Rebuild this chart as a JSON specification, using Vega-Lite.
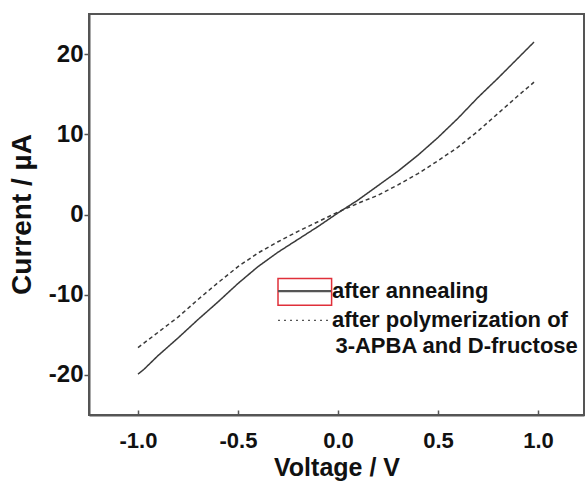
{
  "$schema": "https://vega.github.io/schema/vega-lite/v6.json",
  "width": 495,
  "height": 401,
  "autosize": {"type": "none"},
  "padding": {"left": 89, "top": 14, "right": 2, "bottom": 66},
  "background": "white",
  "config": {
    "view": {"stroke": "#555", "strokeWidth": 2},
    "font": "Liberation Sans"
  },
  "datasets": {
    "iv": [
      {"V": -1.0, "I": -19.9, "s": "after annealing"},
      {"V": -0.97, "I": -19.3, "s": "after annealing"},
      {"V": -0.9, "I": -17.6, "s": "after annealing"},
      {"V": -0.8, "I": -15.4, "s": "after annealing"},
      {"V": -0.7, "I": -13.1, "s": "after annealing"},
      {"V": -0.6, "I": -10.9, "s": "after annealing"},
      {"V": -0.5, "I": -8.6, "s": "after annealing"},
      {"V": -0.4, "I": -6.5, "s": "after annealing"},
      {"V": -0.3, "I": -4.7, "s": "after annealing"},
      {"V": -0.2, "I": -3.1, "s": "after annealing"},
      {"V": -0.1, "I": -1.5, "s": "after annealing"},
      {"V": 0.0, "I": 0.2, "s": "after annealing"},
      {"V": 0.1, "I": 1.8, "s": "after annealing"},
      {"V": 0.2, "I": 3.6, "s": "after annealing"},
      {"V": 0.3, "I": 5.4, "s": "after annealing"},
      {"V": 0.4, "I": 7.4, "s": "after annealing"},
      {"V": 0.5, "I": 9.6, "s": "after annealing"},
      {"V": 0.6, "I": 12.0, "s": "after annealing"},
      {"V": 0.7, "I": 14.6, "s": "after annealing"},
      {"V": 0.8, "I": 17.0, "s": "after annealing"},
      {"V": 0.9, "I": 19.5, "s": "after annealing"},
      {"V": 0.98, "I": 21.5, "s": "after annealing"},
      {"V": -1.0, "I": -16.6, "s": "after polymerization"},
      {"V": -0.9, "I": -14.7, "s": "after polymerization"},
      {"V": -0.8, "I": -12.8, "s": "after polymerization"},
      {"V": -0.7, "I": -10.6, "s": "after polymerization"},
      {"V": -0.6, "I": -8.5, "s": "after polymerization"},
      {"V": -0.5, "I": -6.5, "s": "after polymerization"},
      {"V": -0.4, "I": -4.8, "s": "after polymerization"},
      {"V": -0.3, "I": -3.4, "s": "after polymerization"},
      {"V": -0.2, "I": -2.1, "s": "after polymerization"},
      {"V": -0.1, "I": -0.9, "s": "after polymerization"},
      {"V": 0.0, "I": 0.3, "s": "after polymerization"},
      {"V": 0.1, "I": 1.4, "s": "after polymerization"},
      {"V": 0.2, "I": 2.4, "s": "after polymerization"},
      {"V": 0.3, "I": 3.7, "s": "after polymerization"},
      {"V": 0.4, "I": 5.1, "s": "after polymerization"},
      {"V": 0.5, "I": 6.7, "s": "after polymerization"},
      {"V": 0.6, "I": 8.4, "s": "after polymerization"},
      {"V": 0.7, "I": 10.4, "s": "after polymerization"},
      {"V": 0.8, "I": 12.6, "s": "after polymerization"},
      {"V": 0.9, "I": 14.8, "s": "after polymerization"},
      {"V": 0.98, "I": 16.5, "s": "after polymerization"}
    ],
    "box": [{"x1": -0.3, "x2": -0.032, "y1": -7.98, "y2": -11.3}],
    "keys": [
      {"x1": -0.3, "x2": -0.035, "y": -9.56, "s": "after annealing"},
      {"x1": -0.3, "x2": -0.04, "y": -13.2, "s": "after polymerization"}
    ],
    "labels": [
      {"x": -0.03, "y": -9.6, "t": "after annealing"},
      {"x": -0.03, "y": -13.2, "t": "after polymerization of"},
      {"x": -0.013, "y": -16.4, "t": "3-APBA and D-fructose"}
    ]
  },
  "layer": [
    {
      "data": {"name": "iv"},
      "mark": {"type": "line", "color": "#3a3a3a", "strokeWidth": 1.5},
      "encoding": {
        "x": {
          "field": "V", "type": "quantitative",
          "scale": {"domain": [-1.245, 1.23], "nice": false, "zero": false},
          "axis": {
            "values": [-1, -0.5, 0, 0.5, 1], "grid": false,
            "labelExpr": "datum.value < 0 ? '-' + format(-datum.value, '.1f') : format(datum.value, '.1f')",
            "domainColor": "#555", "domainWidth": 2,
            "tickColor": "#555", "tickWidth": 1.5, "tickSize": -5,
            "labelFont": "Liberation Sans", "labelFontWeight": "bold", "labelFontSize": 22,
            "labelColor": "#111", "labelBaseline": "alphabetic", "labelPadding": 37,
            "title": "Voltage / V", "titleFont": "Liberation Sans", "titleFontWeight": "bold",
            "titleFontSize": 25, "titleColor": "#111", "titleY": 60, "titleBaseline": "alphabetic"
          }
        },
        "y": {
          "field": "I", "type": "quantitative",
          "scale": {"domain": [-25, 25], "nice": false, "zero": false},
          "axis": {
            "values": [-20, -10, 0, 10, 20], "grid": false,
            "labelExpr": "datum.value < 0 ? '-' + format(-datum.value, 'd') : format(datum.value, 'd')",
            "domainColor": "#555", "domainWidth": 2,
            "tickColor": "#555", "tickWidth": 1.5, "tickSize": 5,
            "labelFont": "Liberation Sans", "labelFontWeight": "bold", "labelFontSize": 24,
            "labelColor": "#111", "labelPadding": 1,
            "title": "Current / µA", "titleFont": "Liberation Sans", "titleFontWeight": "bold",
            "titleFontSize": 28, "titleColor": "#111", "titleX": -67, "titleY": 200,
            "titleAngle": -90, "titleAlign": "center", "titleBaseline": "middle"
          }
        },
        "strokeDash": {
          "field": "s", "type": "nominal",
          "scale": {"domain": ["after annealing", "after polymerization"], "range": [[1, 0], [4, 3]]},
          "legend": null
        }
      }
    },
    {
      "data": {"name": "box"},
      "mark": {"type": "rect", "fill": null, "stroke": "#e0303a", "strokeWidth": 1.5},
      "encoding": {
        "x": {"field": "x1", "type": "quantitative"},
        "x2": {"field": "x2"},
        "y": {"field": "y1", "type": "quantitative"},
        "y2": {"field": "y2"}
      }
    },
    {
      "data": {"name": "keys"},
      "mark": {"type": "rule", "color": "#555"},
      "encoding": {
        "x": {"field": "x1", "type": "quantitative"},
        "x2": {"field": "x2"},
        "y": {"field": "y", "type": "quantitative"},
        "strokeDash": {
          "field": "s", "type": "nominal",
          "scale": {"domain": ["after annealing", "after polymerization"], "range": [[1, 0], [2, 4]]},
          "legend": null
        },
        "strokeWidth": {
          "field": "s", "type": "nominal",
          "scale": {"domain": ["after annealing", "after polymerization"], "range": [2.2, 1.2]},
          "legend": null
        }
      }
    },
    {
      "data": {"name": "labels"},
      "mark": {"type": "text", "align": "left", "baseline": "middle", "font": "Liberation Sans", "fontWeight": "bold", "fontSize": 22, "color": "#111"},
      "encoding": {
        "x": {"field": "x", "type": "quantitative"},
        "y": {"field": "y", "type": "quantitative"},
        "text": {"field": "t"}
      }
    }
  ],
  "resolve": {"scale": {"strokeDash": "independent", "strokeWidth": "independent"}}
}
